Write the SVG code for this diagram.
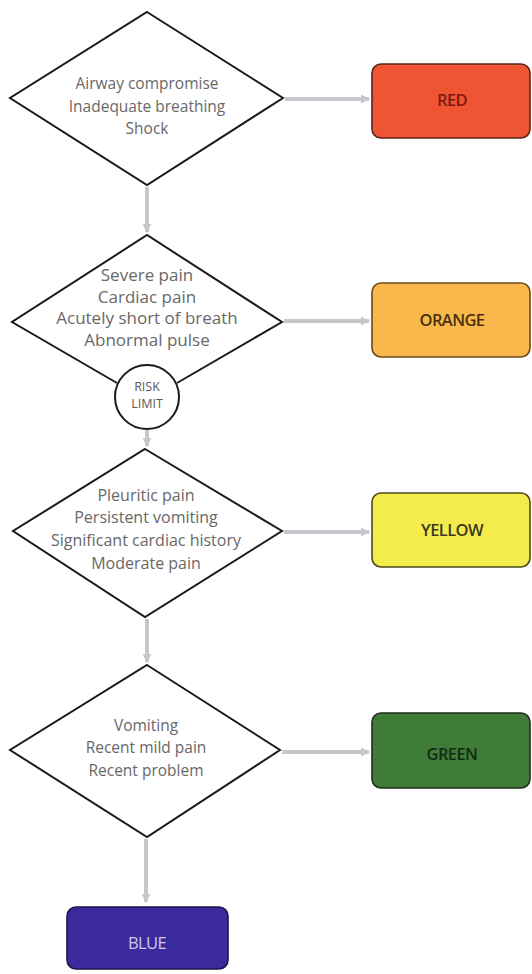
<svg xmlns="http://www.w3.org/2000/svg" width="532" height="974" viewBox="0 0 532 974">
<style>
.dia{fill:#fff;stroke:#1a1a1a;stroke-width:2;stroke-linejoin:miter}
.dt{font-family:"Open Sans","DejaVu Sans",sans-serif;font-size:15.5px;fill:#686868;text-anchor:middle}
.bt{font-family:"Open Sans","DejaVu Sans",sans-serif;font-size:16.5px;font-weight:600;text-anchor:middle;letter-spacing:-0.6px}
.rt{font-family:"Open Sans","DejaVu Sans",sans-serif;font-size:12.5px;fill:#5a5a5a;text-anchor:middle}
.con{stroke:#c6c6cc;stroke-width:4;fill:none}
.box{stroke-width:1.6}
</style>
<defs>
<marker id="ah" viewBox="0 0 10 10" refX="9" refY="5" markerWidth="2.2" markerHeight="2.6" orient="auto" markerUnits="strokeWidth">
<path d="M0,0 L10,5 L0,10 z" fill="#c6c6cc"/>
</marker>
</defs>
<rect width="532" height="974" fill="#fff"/>
<g id="connectors">
<line class="con" x1="285" y1="99" x2="369" y2="99" marker-end="url(#ah)"/>
<line class="con" x1="147" y1="187" x2="147" y2="232" marker-end="url(#ah)"/>
<line class="con" x1="284" y1="321" x2="369" y2="321" marker-end="url(#ah)"/>
<line class="con" x1="147" y1="430" x2="147" y2="446" marker-end="url(#ah)"/>
<line class="con" x1="284" y1="532" x2="369" y2="532" marker-end="url(#ah)"/>
<line class="con" x1="147" y1="619" x2="147" y2="662" marker-end="url(#ah)"/>
<line class="con" x1="282" y1="752" x2="369" y2="752" marker-end="url(#ah)"/>
<line class="con" x1="146" y1="839" x2="146" y2="902" marker-end="url(#ah)"/>
</g>
<g id="d1">
<polygon class="dia" points="147,12 283,98 147,185 10,98"/>
<text class="dt" x="147" y="89">Airway compromise</text>
<text class="dt" x="147" y="112">Inadequate breathing</text>
<text class="dt" x="147" y="134">Shock</text>
</g>
<g id="red">
<rect class="box" x="372" y="64" width="158" height="74" rx="9" fill="#ef5533" stroke="#5a2418"/>
<text class="bt" x="452" y="106" fill="#7a1a10">RED</text>
</g>
<g id="d2">
<polyline class="dia" points="117,383 12,322 147,235 282,322 177,383"/>
<text class="dt" x="147" y="281" style="font-size:17px">Severe pain</text>
<text class="dt" x="147" y="303" style="font-size:17px">Cardiac pain</text>
<text class="dt" x="147" y="324" style="font-size:17px">Acutely short of breath</text>
<text class="dt" x="147" y="346" style="font-size:17px">Abnormal pulse</text>
</g>
<g id="risk">
<circle cx="147" cy="397" r="32" fill="#fff" stroke="#1a1a1a" stroke-width="2"/>
<text class="rt" x="147" y="391">RISK</text>
<text class="rt" x="147" y="408">LIMIT</text>
</g>
<g id="orange">
<rect class="box" x="372" y="283" width="158" height="74" rx="9" fill="#f9b84c" stroke="#6a4a1a"/>
<text class="bt" x="452" y="326" fill="#4a3010">ORANGE</text>
</g>
<g id="d3">
<polygon class="dia" points="145,449 282,531 145,617 13,531"/>
<text class="dt" x="146" y="501" style="font-size:16px">Pleuritic pain</text>
<text class="dt" x="146" y="523" style="font-size:16px">Persistent vomiting</text>
<text class="dt" x="146" y="546" style="font-size:16px">Significant cardiac history</text>
<text class="dt" x="146" y="569" style="font-size:16px">Moderate pain</text>
</g>
<g id="yellow">
<rect class="box" x="372" y="493" width="158" height="74" rx="9" fill="#f4ec4c" stroke="#4a4a1a"/>
<text class="bt" x="452" y="536" fill="#3a3a20">YELLOW</text>
</g>
<g id="d4">
<polygon class="dia" points="147,665 280,750 147,837 10,750"/>
<text class="dt" x="146" y="731">Vomiting</text>
<text class="dt" x="146" y="753">Recent mild pain</text>
<text class="dt" x="146" y="776">Recent problem</text>
</g>
<g id="green">
<rect class="box" x="372" y="713" width="158" height="75" rx="9" fill="#3f7c37" stroke="#1e2e1a"/>
<text class="bt" x="452" y="760" fill="#142a16">GREEN</text>
</g>
<g id="blue">
<rect class="box" x="67" y="907" width="161" height="62" rx="9" fill="#3b2a9c" stroke="#1e164a"/>
<text class="bt" x="147" y="949" fill="#cfc6f2" style="font-weight:400">BLUE</text>
</g>
</svg>
